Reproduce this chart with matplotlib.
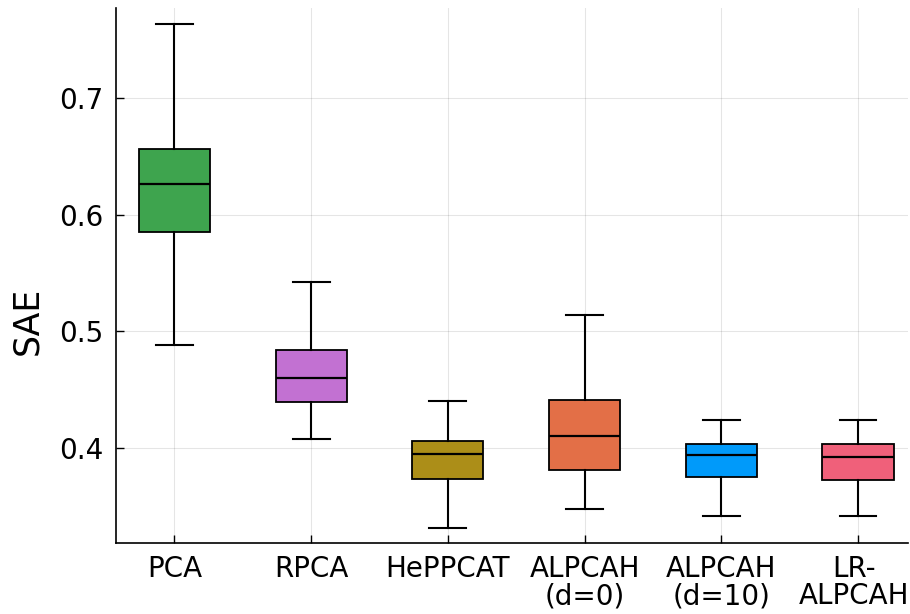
import matplotlib
matplotlib.use("Agg")
import matplotlib.pyplot as plt
import matplotlib.transforms as mtransforms

plt.rcParams['font.family'] = ['DejaVu Sans']

methods = ["PCA", "RPCA", "HePPCAT", "ALPCAH\n(d=0)", "ALPCAH\n(d=10)", "LR-\nALPCAH"]
whisker_low = [0.488, 0.407, 0.331, 0.347, 0.341, 0.341]
q1 = [0.585, 0.4395, 0.3733, 0.381, 0.375, 0.372]
median = [0.6264, 0.4597, 0.3945, 0.410, 0.3935, 0.3917]
q3 = [0.6568, 0.4834, 0.4054, 0.4404, 0.4032, 0.403]
whisker_high = [0.7642, 0.5426, 0.440, 0.5138, 0.4238, 0.424]
colors = ["#3EA44E", "#C271D2", "#AC8E18", "#E36F47", "#009AFA", "#F0607A"]

stats = []
for lab, lo, a, m, b, hi in zip(methods, whisker_low, q1, median, q3, whisker_high):
    stats.append(dict(label=lab, whislo=lo, q1=a, med=m, q3=b, whishi=hi, fliers=[]))

fig = plt.figure(figsize=(9.1, 6.14), dpi=100)
ax = fig.add_axes([0.1275, 0.1161, 0.8705, 0.8709])

positions = list(range(1, len(methods) + 1))
bp = ax.bxp(stats, positions=positions, widths=0.52, patch_artist=True,
            showfliers=False,
            boxprops=dict(linewidth=1.3, edgecolor="black"),
            medianprops=dict(color="black", linewidth=1.6),
            whiskerprops=dict(color="black", linewidth=1.5),
            capprops=dict(color="black", linewidth=1.5),
            capwidths=0.27, zorder=3)
for patch, c in zip(bp["boxes"], colors):
    patch.set_facecolor(c)

ax.set_xlim(0.5735, 6.367)
ax.set_ylim(0.3182, 0.7776)
ax.set_yticks([0.4, 0.5, 0.6, 0.7])
ax.set_yticklabels(["0.4", "0.5", "0.6", "0.7"])
ax.set_xticks(positions)
ax.set_xticklabels(methods, linespacing=0.95)

ax.grid(True, color="black", alpha=0.1, linewidth=0.8, zorder=0)
ax.set_axisbelow(True)
for side in ["top", "right"]:
    ax.spines[side].set_visible(False)
for side in ["left", "bottom"]:
    ax.spines[side].set_linewidth(1.2)
ax.tick_params(axis="both", direction="in", length=5.5, width=1.0, labelsize=20)
ax.tick_params(axis="x", pad=9)
ax.tick_params(axis="y", pad=9)
ax.set_ylabel("SAE", fontsize=25)
ax.yaxis.set_label_coords(-0.09, 0.415)

# keep the last category label inside the canvas
last = ax.get_xticklabels()[-1]
last.set_transform(last.get_transform() +
                   mtransforms.ScaledTranslation(-4 / 100, 0, fig.dpi_scale_trans))

fig.savefig("out.png", dpi=100)
